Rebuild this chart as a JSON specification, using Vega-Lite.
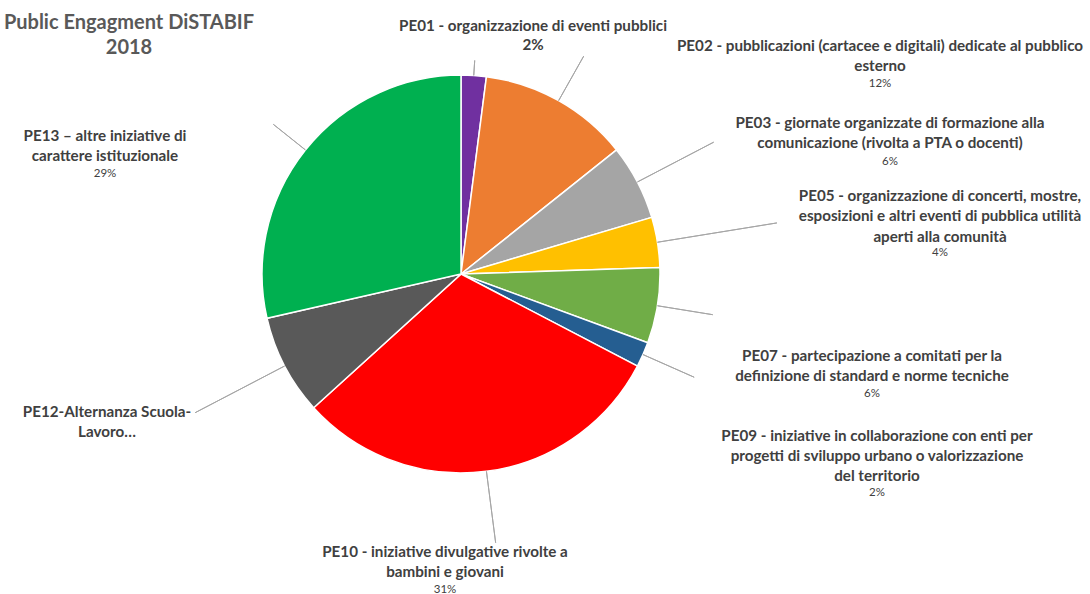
{
  "$schema": "https://vega.github.io/schema/vega-lite/v6.json",
  "width": 922,
  "height": 548,
  "autosize": {"type": "none"},
  "padding": {"left": 0, "top": 0, "right": 168, "bottom": 46},
  "background": "#ffffff",
  "title": {
    "text": ["Public Engagment DiSTABIF", "2018"],
    "anchor": "start",
    "frame": "group",
    "align": "center",
    "baseline": "bottom",
    "dx": 129,
    "offset": -78,
    "font": "Lato",
    "fontSize": 20,
    "fontWeight": "bold",
    "color": "#595959",
    "lineHeight": 25
  },
  "config": {
    "view": {"stroke": null},
    "text": {"font": "Lato", "fontSize": 15.2, "fontWeight": "bold", "fill": "#404040", "baseline": "alphabetic", "align": "center", "lineBreak": "|", "lineHeight": 20.3}
  },
  "data": {
    "values": [
      {"order": 1, "code": "PE01", "count": 1, "pct": "2%", "name": "PE01 - organizzazione di eventi pubblici"},
      {"order": 2, "code": "PE02", "count": 6, "pct": "12%", "name": "PE02 - pubblicazioni (cartacee e digitali) dedicate al pubblico|esterno"},
      {"order": 3, "code": "PE03", "count": 3, "pct": "6%", "name": "PE03 - giornate organizzate di formazione alla|comunicazione (rivolta a PTA o docenti)"},
      {"order": 4, "code": "PE05", "count": 2, "pct": "4%", "name": "PE05 - organizzazione di concerti, mostre,|esposizioni e altri eventi di pubblica utilità|aperti alla comunità"},
      {"order": 5, "code": "PE07", "count": 3, "pct": "6%", "name": "PE07 - partecipazione a comitati per la|definizione di standard e norme tecniche"},
      {"order": 6, "code": "PE09", "count": 1, "pct": "2%", "name": "PE09 - iniziative in collaborazione con enti per|progetti di sviluppo urbano o valorizzazione|del territorio"},
      {"order": 7, "code": "PE10", "count": 15, "pct": "31%", "name": "PE10 - iniziative divulgative rivolte a|bambini e giovani"},
      {"order": 8, "code": "PE12", "count": 4, "pct": "8%", "name": "PE12-Alternanza Scuola-|Lavoro…"},
      {"order": 9, "code": "PE13", "count": 14, "pct": "29%", "name": "PE13 – altre iniziative di|carattere istituzionale"}
    ]
  },
  "transform": [
    {"stack": "count", "groupby": [], "sort": [{"field": "order", "order": "ascending"}], "as": ["t0", "t1"]}
  ],
  "layer": [
    {
      "mark": {"type": "arc", "radius": 199, "stroke": "#ffffff", "strokeWidth": 1.5},
      "encoding": {
        "theta": {"field": "t0", "type": "quantitative", "scale": {"domain": [0, 49]}},
        "theta2": {"field": "t1"},
        "color": {
          "field": "code", "type": "nominal", "legend": null,
          "scale": {
            "domain": ["PE01", "PE02", "PE03", "PE05", "PE07", "PE09", "PE10", "PE12", "PE13"],
            "range": ["#7030A0", "#ED7D31", "#A5A5A5", "#FFC000", "#70AD47", "#255E91", "#FF0000", "#595959", "#00B050"]
          }
        }
      }
    },
    {"transform": [{"filter": {"field": "code", "equal": "PE01"}}], "mark": {"type": "arc", "filled": false, "stroke": "#A6A6A6", "strokeWidth": 1, "radius": 214, "radius2": 199, "padAngle": 3.14}, "encoding": {"theta": {"field": "t0", "type": "quantitative"}, "theta2": {"field": "t1"}}},
    {"transform": [{"filter": {"field": "code", "equal": "PE02"}}], "mark": {"type": "arc", "filled": false, "stroke": "#A6A6A6", "strokeWidth": 1, "radius": 250, "radius2": 199, "padAngle": 3.14}, "encoding": {"theta": {"field": "t0", "type": "quantitative"}, "theta2": {"field": "t1"}}},
    {"transform": [{"filter": {"field": "code", "equal": "PE03"}}], "mark": {"type": "arc", "filled": false, "stroke": "#A6A6A6", "strokeWidth": 1, "radius": 285, "radius2": 199, "padAngle": 3.14}, "encoding": {"theta": {"field": "t0", "type": "quantitative"}, "theta2": {"field": "t1"}}},
    {"transform": [{"filter": {"field": "code", "equal": "PE05"}}], "mark": {"type": "arc", "filled": false, "stroke": "#A6A6A6", "strokeWidth": 1, "radius": 320, "radius2": 199, "padAngle": 3.14}, "encoding": {"theta": {"field": "t0", "type": "quantitative"}, "theta2": {"field": "t1"}}},
    {"transform": [{"filter": {"field": "code", "equal": "PE07"}}], "mark": {"type": "arc", "filled": false, "stroke": "#A6A6A6", "strokeWidth": 1, "radius": 255, "radius2": 199, "padAngle": 3.14}, "encoding": {"theta": {"field": "t0", "type": "quantitative"}, "theta2": {"field": "t1"}}},
    {"transform": [{"filter": {"field": "code", "equal": "PE09"}}], "mark": {"type": "arc", "filled": false, "stroke": "#A6A6A6", "strokeWidth": 1, "radius": 255, "radius2": 199, "padAngle": 3.14}, "encoding": {"theta": {"field": "t0", "type": "quantitative"}, "theta2": {"field": "t1"}}},
    {"transform": [{"filter": {"field": "code", "equal": "PE10"}}], "mark": {"type": "arc", "filled": false, "stroke": "#A6A6A6", "strokeWidth": 1, "radius": 271, "radius2": 199, "padAngle": 3.14}, "encoding": {"theta": {"field": "t0", "type": "quantitative"}, "theta2": {"field": "t1"}}},
    {"transform": [{"filter": {"field": "code", "equal": "PE12"}}], "mark": {"type": "arc", "filled": false, "stroke": "#A6A6A6", "strokeWidth": 1, "radius": 300, "radius2": 199, "padAngle": 3.14}, "encoding": {"theta": {"field": "t0", "type": "quantitative"}, "theta2": {"field": "t1"}}},
    {"transform": [{"filter": {"field": "code", "equal": "PE13"}}], "mark": {"type": "arc", "filled": false, "stroke": "#A6A6A6", "strokeWidth": 1, "radius": 240, "radius2": 199, "padAngle": 3.14}, "encoding": {"theta": {"field": "t0", "type": "quantitative"}, "theta2": {"field": "t1"}}},

    {"transform": [{"filter": {"field": "code", "equal": "PE01"}}], "mark": {"type": "text", "dx": 72, "dy": -243}, "encoding": {"text": {"field": "name"}}},
    {"transform": [{"filter": {"field": "code", "equal": "PE01"}}], "mark": {"type": "text", "dx": 72, "dy": -224}, "encoding": {"text": {"field": "pct"}}},
    {"transform": [{"filter": {"field": "code", "equal": "PE02"}}], "mark": {"type": "text", "dx": 419, "dy": -223}, "encoding": {"text": {"field": "name"}}},
    {"transform": [{"filter": {"field": "code", "equal": "PE02"}}], "mark": {"type": "text", "dx": 419, "dy": -187, "fontSize": 11.5, "fontWeight": "normal"}, "encoding": {"text": {"field": "pct"}}},
    {"transform": [{"filter": {"field": "code", "equal": "PE03"}}], "mark": {"type": "text", "dx": 429, "dy": -146}, "encoding": {"text": {"field": "name"}}},
    {"transform": [{"filter": {"field": "code", "equal": "PE03"}}], "mark": {"type": "text", "dx": 429, "dy": -109, "fontSize": 11.5, "fontWeight": "normal"}, "encoding": {"text": {"field": "pct"}}},
    {"transform": [{"filter": {"field": "code", "equal": "PE05"}}], "mark": {"type": "text", "dx": 479, "dy": -73}, "encoding": {"text": {"field": "name"}}},
    {"transform": [{"filter": {"field": "code", "equal": "PE05"}}], "mark": {"type": "text", "dx": 479, "dy": -18, "fontSize": 11.5, "fontWeight": "normal"}, "encoding": {"text": {"field": "pct"}}},
    {"transform": [{"filter": {"field": "code", "equal": "PE07"}}], "mark": {"type": "text", "dx": 411, "dy": 87}, "encoding": {"text": {"field": "name"}}},
    {"transform": [{"filter": {"field": "code", "equal": "PE07"}}], "mark": {"type": "text", "dx": 411, "dy": 123, "fontSize": 11.5, "fontWeight": "normal"}, "encoding": {"text": {"field": "pct"}}},
    {"transform": [{"filter": {"field": "code", "equal": "PE09"}}], "mark": {"type": "text", "dx": 416, "dy": 166.5}, "encoding": {"text": {"field": "name"}}},
    {"transform": [{"filter": {"field": "code", "equal": "PE09"}}], "mark": {"type": "text", "dx": 416, "dy": 222, "fontSize": 11.5, "fontWeight": "normal"}, "encoding": {"text": {"field": "pct"}}},
    {"transform": [{"filter": {"field": "code", "equal": "PE10"}}], "mark": {"type": "text", "dx": -16, "dy": 282.5}, "encoding": {"text": {"field": "name"}}},
    {"transform": [{"filter": {"field": "code", "equal": "PE10"}}], "mark": {"type": "text", "dx": -16, "dy": 319, "fontSize": 11.5, "fontWeight": "normal"}, "encoding": {"text": {"field": "pct"}}},
    {"transform": [{"filter": {"field": "code", "equal": "PE12"}}], "mark": {"type": "text", "dx": -354, "dy": 142.5}, "encoding": {"text": {"field": "name"}}},
    {"transform": [{"filter": {"field": "code", "equal": "PE13"}}], "mark": {"type": "text", "dx": -356, "dy": -133.5}, "encoding": {"text": {"field": "name"}}},
    {"transform": [{"filter": {"field": "code", "equal": "PE13"}}], "mark": {"type": "text", "dx": -356, "dy": -97, "fontSize": 11.5, "fontWeight": "normal"}, "encoding": {"text": {"field": "pct"}}}
  ]
}
